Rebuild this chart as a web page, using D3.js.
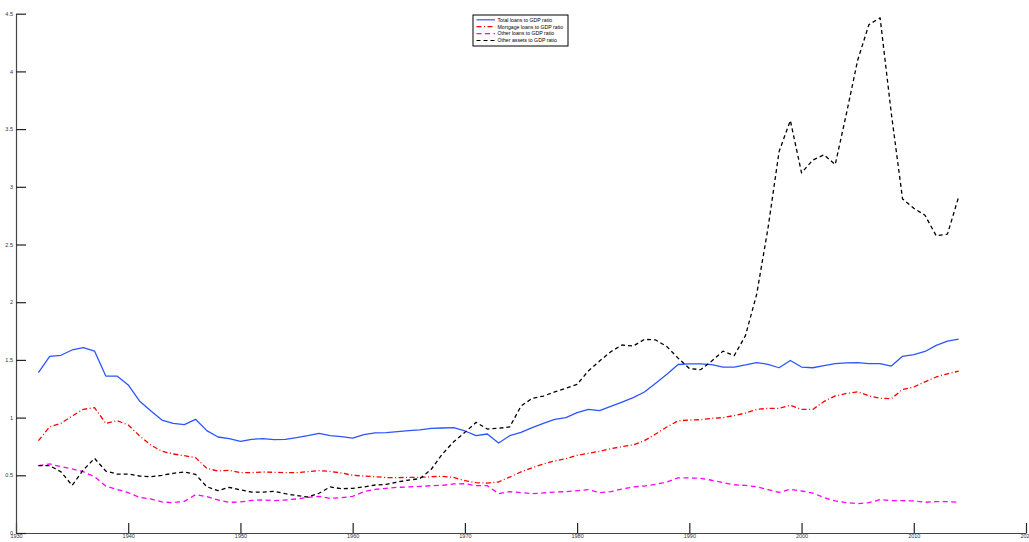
<!DOCTYPE html>
<html><head><meta charset="utf-8">
<script src="https://cdn.jsdelivr.net/npm/d3@7"></script>
<style>body{margin:0;background:#fff}svg{display:block}text{font-family:"Liberation Sans",Arial,sans-serif}</style>
</head><body><svg id="c" width="1029" height="542"></svg>
<script>
const years = d3.range(1932, 2015);
const totalLoans = [1.39,1.53,1.54,1.586,1.606,1.577,1.36,1.36,1.283,1.144,1.06,0.979,0.95,0.939,0.985,0.887,0.832,0.817,0.794,0.812,0.817,0.809,0.812,0.826,0.843,0.864,0.843,0.835,0.823,
0.852,0.867,0.869,0.878,0.887,0.893,0.907,0.91,0.913,0.884,0.843,0.858,0.78,0.843,0.872,0.913,0.95,0.985,0.999,1.043,1.072,1.06,1.098,1.135,1.173,1.222,1.297,1.375,1.46,
1.465,1.465,1.459,1.438,1.438,1.456,1.477,1.462,1.432,1.495,1.438,1.432,1.45,1.468,1.474,1.477,1.468,1.468,1.447,1.531,1.546,1.573,1.626,1.662,1.68];
const mortgageLoans = [0.80,0.921,0.95,1.014,1.072,1.086,0.95,0.973,0.936,0.843,0.763,0.708,0.685,0.67,0.653,0.56,0.537,0.543,0.523,0.523,0.529,0.526,0.523,0.523,0.531,0.54,0.534,0.52,0.5,
0.494,0.488,0.48,0.48,0.482,0.482,0.488,0.491,0.482,0.453,0.436,0.433,0.442,0.485,0.529,0.566,0.598,0.624,0.644,0.673,0.69,0.708,0.731,0.748,0.763,0.80,0.858,0.919,0.972,
0.979,0.982,0.994,1.0,1.018,1.039,1.071,1.08,1.08,1.107,1.071,1.071,1.14,1.188,1.209,1.224,1.188,1.167,1.164,1.244,1.265,1.31,1.352,1.379,1.403];
const otherLoans = [0.583,0.598,0.575,0.555,0.531,0.488,0.407,0.378,0.35,0.309,0.295,0.269,0.263,0.274,0.332,0.315,0.286,0.266,0.269,0.283,0.286,0.28,0.286,0.295,0.309,0.318,0.30,0.306,0.318,
0.358,0.378,0.387,0.396,0.399,0.404,0.41,0.413,0.425,0.427,0.41,0.41,0.341,0.358,0.35,0.341,0.347,0.355,0.358,0.367,0.376,0.35,0.358,0.381,0.399,0.407,0.422,0.442,0.478,
0.477,0.474,0.457,0.436,0.418,0.412,0.40,0.376,0.352,0.379,0.364,0.346,0.307,0.278,0.263,0.254,0.263,0.289,0.28,0.28,0.278,0.266,0.272,0.272,0.266];
const otherAssets = [0.583,0.583,0.531,0.413,0.546,0.647,0.537,0.511,0.511,0.494,0.488,0.50,0.517,0.529,0.508,0.401,0.367,0.396,0.373,0.355,0.355,0.361,0.341,0.324,0.312,0.344,0.399,0.384,0.387,
0.399,0.416,0.422,0.442,0.459,0.471,0.552,0.685,0.791,0.872,0.959,0.901,0.907,0.919,1.1,1.167,1.187,1.222,1.254,1.288,1.404,1.49,1.571,1.629,1.62,1.678,1.673,1.615,1.515,
1.426,1.415,1.49,1.576,1.537,1.71,2.068,2.635,3.306,3.575,3.121,3.232,3.277,3.193,3.635,4.097,4.405,4.464,3.635,2.895,2.814,2.754,2.575,2.59,2.913];
const seriesNames = ["Total loans to GDP ratio","Mortgage loans to GDP ratio","Other loans to GDP ratio","Other assets to GDP ratio"];
const xTicks = [1930,1940,1950,1960,1970,1980,1990,2000,2010,2020];
const yTicks = [0,0.5,1,1.5,2,2.5,3,3.5,4,4.5];

const series = [
  {name: seriesNames[0], values: totalLoans, color: "#2b55ff", dash: null},
  {name: seriesNames[1], values: mortgageLoans, color: "#ff0000", dash: "5,2.5,1,2.5"},
  {name: seriesNames[2], values: otherLoans, color: "#ff00ff", dash: "5,3.5"},
  {name: seriesNames[3], values: otherAssets, color: "#000000", dash: "4,3"}
];

const svg = d3.select("#c");
const x = d3.scaleLinear().domain([1930, 2020]).range([16, 1026]);
const y = d3.scaleLinear().domain([0, 4.5]).range([533, 13.7]);

// axes
const xAxis = svg.append("g").attr("transform", "translate(0,533)")
  .call(d3.axisBottom(x).tickValues(xTicks).tickFormat(d3.format("d")).tickSizeInner(-10).tickSizeOuter(0).tickPadding(2));
const yAxis = svg.append("g").attr("transform", "translate(16,0)")
  .call(d3.axisLeft(y).tickValues(yTicks).tickFormat(d => d).tickSizeInner(-10).tickSizeOuter(0).tickPadding(3));
[xAxis, yAxis].forEach(g => {
  g.select(".domain").attr("stroke", "#444").attr("stroke-width", 1.2);
  g.selectAll(".tick line").attr("stroke", "#222").attr("stroke-width", 1.2);
  g.selectAll(".tick text").attr("font-size", 5.5).attr("fill", "#333").attr("font-family", "Liberation Sans, Arial, sans-serif");
});
xAxis.selectAll(".tick text").attr("dy", "0.5em");
yAxis.selectAll(".tick text").attr("dy", "0.3em");

const line = d3.line().x((d, i) => x(years[i])).y(d => y(d));
series.forEach(s => {
  svg.append("path").datum(s.values)
    .attr("fill", "none").attr("stroke", s.color).attr("stroke-width", 1.3)
    .attr("stroke-dasharray", s.dash).attr("stroke-linejoin", "round")
    .attr("d", line);
});

// legend
const lg = svg.append("g").attr("transform", "translate(473,15)");
lg.append("rect").attr("x", 0).attr("y", 0).attr("width", 95).attr("height", 31)
  .attr("fill", "#fff").attr("stroke", "#000").attr("stroke-width", 1);
series.forEach((s, i) => {
  const yy = 4.8 + i * 6.9;
  lg.append("line").attr("x1", 3.5).attr("x2", 22).attr("y1", yy).attr("y2", yy)
    .attr("stroke", s.color).attr("stroke-width", 1.2).attr("stroke-dasharray", s.dash);
  lg.append("text").attr("x", 24.5).attr("y", yy).attr("dy", "0.35em")
    .attr("font-size", 5.2).attr("fill", "#000").text(s.name);
});
</script></body></html>
